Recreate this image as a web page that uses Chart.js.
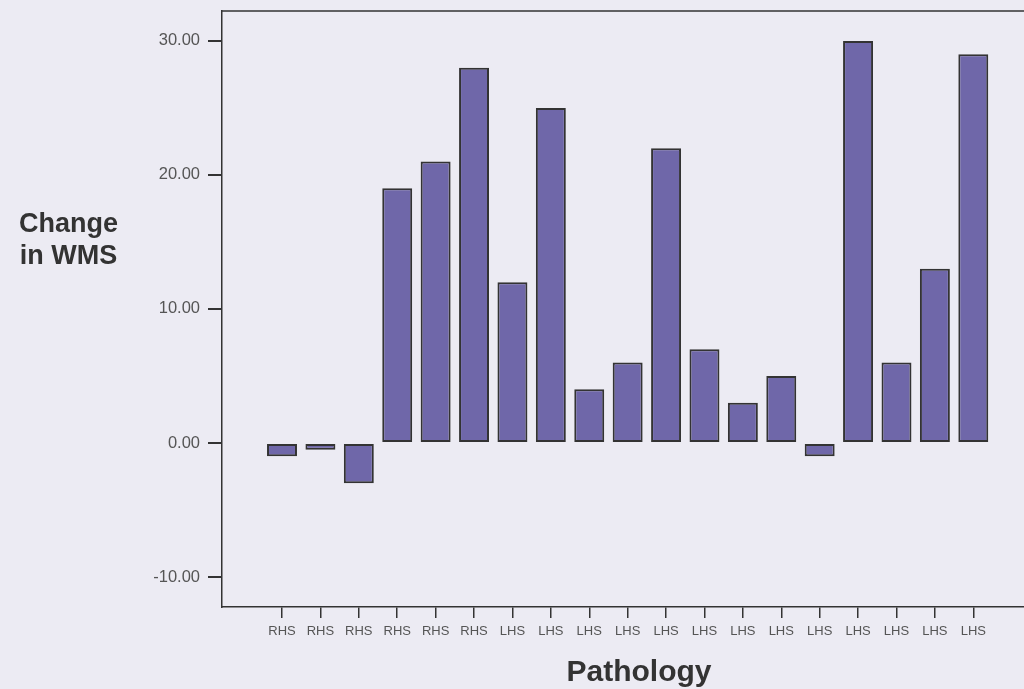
<!DOCTYPE html>
<html>
<head>
<meta charset="utf-8">
<script src="https://cdn.jsdelivr.net/npm/chart.js@4"></script>
<style>
  html, body { margin: 0; padding: 0; background: #ecebf3; }
  #wrap { position: relative; width: 1024px; height: 689px; overflow: hidden; }
  #chart { position: absolute; left: 0; top: -7px; }
  .axis-title {
    position: absolute;
    font-family: "Liberation Sans", Arial, sans-serif;
    font-weight: bold;
    color: #333;
    text-align: center;
    line-height: 32px;
  }
  #ytitle { left: 0; top: 207px; width: 137px; font-size: 27px; }
  #xtitle { left: 539px; top: 655px; width: 200px; font-size: 30px; }
</style>
</head>
<body>
<div id="wrap">
  <canvas id="chart" width="1024" height="696"></canvas>
  <div id="ytitle" class="axis-title">Change<br>in WMS</div>
  <div id="xtitle" class="axis-title">Pathology</div>
</div>
<script>
const categories = ["RHS", "RHS", "RHS", "RHS", "RHS", "RHS",
  "LHS", "LHS", "LHS", "LHS", "LHS", "LHS", "LHS", "LHS", "LHS", "LHS", "LHS", "LHS", "LHS"];
const changeWms = [-1, -0.5, -3, 19, 21, 28, 12, 25, 4, 6, 22, 7, 3, 5, -1, 30, 6, 13, 29];
const yTicks = [-10, 0, 10, 20, 30];

const BAR_COLOR = "#6f67a9";
const EDGE = "#333";
const TEXT = "#555";

// draws the top edge of the plot frame
const topFrame = {
  id: "topFrame",
  afterDraw(chart) {
    const { ctx, chartArea } = chart;
    ctx.save();
    ctx.strokeStyle = EDGE;
    ctx.lineWidth = 1.5;
    ctx.beginPath();
    ctx.moveTo(chartArea.left, chartArea.top);
    ctx.lineTo(chartArea.right, chartArea.top);
    ctx.stroke();
    ctx.restore();
  },
};

new Chart(document.getElementById("chart").getContext("2d"), {
  type: "bar",
  data: {
    datasets: [{
      data: changeWms.map((v, i) => ({ x: i, y: v })),
      backgroundColor: BAR_COLOR,
      borderColor: EDGE,
      borderWidth: 2,
      borderSkipped: false,
      categoryPercentage: 1,
      barPercentage: 0.78,
    }],
  },
  options: {
    responsive: false,
    animation: false,
    layout: { padding: { top: 4, right: 0, bottom: 0, left: 0 } },
    plugins: {
      legend: { display: false },
      tooltip: { enabled: false },
    },
    scales: {
      x: {
        type: "linear",
        offset: false,
        min: -1.5625,
        max: 19.32,
        afterFit: (scale) => { scale.height = 82; },
        afterBuildTicks: (scale) => { scale.ticks = categories.map((_, i) => ({ value: i })); },
        ticks: {
          color: TEXT,
          font: { family: "Liberation Sans, Arial, sans-serif", size: 13 },
          padding: 6,
          maxRotation: 0,
          autoSkip: false,
          callback: (v, i) => categories[i],
        },
        grid: { offset: false, drawOnChartArea: false, drawTicks: true, tickLength: 11, color: EDGE, lineWidth: 1.5 },
        border: { display: true, color: EDGE, width: 1.5 },
      },
      y: {
        min: -12.24,
        max: 32.24,
        afterFit: (scale) => { scale.width = 222; },
        afterBuildTicks: (scale) => { scale.ticks = yTicks.map((v) => ({ value: v })); },
        ticks: {
          color: TEXT,
          font: { family: "Liberation Sans, Arial, sans-serif", size: 16.5 },
          padding: 8,
          callback: (v) => v.toFixed(2),
        },
        grid: { drawOnChartArea: false, drawTicks: true, tickLength: 14, color: EDGE, lineWidth: 2 },
        border: { display: true, color: EDGE, width: 1.5 },
      },
    },
  },
  plugins: [topFrame],
});
</script>
</body>
</html>
